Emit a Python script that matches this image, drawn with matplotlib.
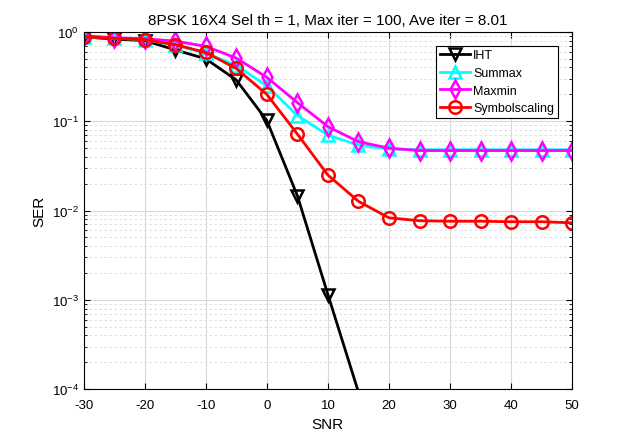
import numpy as np
import matplotlib
matplotlib.use('Agg')
import matplotlib.pyplot as plt
from matplotlib.ticker import LogLocator, NullFormatter

plt.rcParams['font.family'] = ['Liberation Sans', 'DejaVu Sans']
plt.rcParams['axes.unicode_minus'] = False

snr = [-30, -25, -20, -15, -10, -5, 0, 5, 10, 15, 20, 25, 30, 35, 40, 45, 50]

# SER (nan = zero, not shown on log axis)
ser_iht = [0.88, 0.83, 0.80, 0.63, 0.50, 0.29, 0.102, 0.0147, 0.00115, 9.3e-5,
           np.nan, np.nan, np.nan, np.nan, np.nan, np.nan, np.nan]
ser_summax = [0.88, 0.85, 0.82, 0.71, 0.58, 0.42, 0.25, 0.116, 0.070, 0.054,
              0.049, 0.048, 0.048, 0.048, 0.048, 0.048, 0.048]
ser_maxmin = [0.91, 0.86, 0.84, 0.79, 0.69, 0.51, 0.31, 0.162, 0.087, 0.059,
              0.050, 0.047, 0.047, 0.047, 0.047, 0.047, 0.047]
ser_symsc = [0.88, 0.85, 0.82, 0.72, 0.59, 0.39, 0.20, 0.072, 0.025, 0.0127,
             0.0083, 0.0077, 0.0076, 0.0076, 0.0075, 0.0075, 0.0073]

ymin, ymax = 1e-4, 1


def inside(vals):
    # like MATLAB: markers of points outside the limits are not drawn at all
    return [i for i, v in enumerate(vals) if not np.isnan(v) and ymin <= v <= ymax]


fig = plt.figure(figsize=(6.33, 4.39), dpi=100)
ax = fig.add_axes([0.132, 0.111, 0.772, 0.814])

series = [(ser_iht, 'v', 'k', 'IHT'),
          (ser_summax, '^', 'cyan', 'Summax'),
          (ser_maxmin, 'd', 'magenta', 'Maxmin'),
          (ser_symsc, 'o', 'red', 'Symbolscaling')]
for vals, mk, col, lbl in series:
    ax.semilogy(snr, vals, '-', marker=mk, color=col, lw=2, ms=9, mfc='none',
                mew=1.8, markevery=inside(vals), label=lbl)

ax.set_xlim(-30, 50)
ax.set_ylim(ymin, ymax)
ax.set_xticks(range(-30, 51, 10))
ax.yaxis.set_major_locator(LogLocator(base=10, numticks=10))
ax.yaxis.set_minor_locator(LogLocator(base=10, subs=np.arange(2, 10), numticks=10))
ax.yaxis.set_minor_formatter(NullFormatter())

ax.grid(True, which='major', color='#d9d9d9', lw=0.8)
ax.grid(True, which='minor', axis='y', color='#d9d9d9', lw=0.6, ls=(0, (3, 3)))
ax.set_axisbelow(True)

ax.tick_params(which='both', direction='in', top=True, right=True, labelsize=9.5)
ax.tick_params(which='major', length=4)
ax.tick_params(which='minor', length=2)
ax.tick_params(axis='x', pad=7)
for s in ax.spines.values():
    s.set_color('k')
    s.set_linewidth(0.8)

ax.set_xlabel('SNR', fontsize=11)
ax.set_ylabel('SER', fontsize=11)
ax.set_title('8PSK 16X4 Sel th = 1, Max iter = 100, Ave iter = 8.01', fontsize=11)

leg = ax.legend(loc='upper right', bbox_to_anchor=(0.971, 0.962), borderaxespad=0,
                fontsize=9, fancybox=False, edgecolor='k', framealpha=1,
                handlelength=2.4, borderpad=0.3, labelspacing=0.45, handletextpad=0.25)
leg.get_frame().set_linewidth(0.8)

fig.savefig('out.png', dpi=100)
